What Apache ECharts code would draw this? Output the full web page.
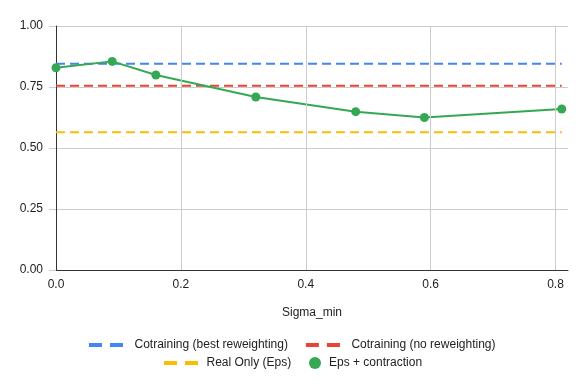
<!DOCTYPE html>
<html>
<head>
<meta charset="utf-8">
<script src="https://cdn.jsdelivr.net/npm/echarts@6/dist/echarts.min.js"></script>
<style>html,body{margin:0;padding:0;background:#fff}#c{width:588px;height:387px}</style>
</head>
<body>
<div id="c"></div>
<script>
const sigmaMin = [0, 0.09, 0.16, 0.32, 0.48, 0.59, 0.81];
const bestReweighting = [0.845, 0.845, 0.845, 0.845, 0.845, 0.845, 0.845];
const noReweighting = [0.755, 0.755, 0.755, 0.755, 0.755, 0.755, 0.755];
const realOnly = [0.565, 0.565, 0.565, 0.565, 0.565, 0.565, 0.565];
const epsContraction = [0.829, 0.855, 0.799, 0.709, 0.649, 0.625, 0.660];
const xTicks = [0, 0.2, 0.4, 0.6, 0.8];
const yTicks = [0, 0.25, 0.5, 0.75, 1.0];
const names = ['Cotraining (best reweighting)', 'Cotraining (no reweighting)', 'Real Only (Eps)', 'Eps + contraction'];
const colors = ['#4285f4', '#ea4335', '#fbbc04', '#34a853'];

const pair = (ys) => sigmaMin.map((x, i) => [x, ys[i]]);
const font = '"Liberation Sans", Arial, sans-serif';
const dashIcon = 'path://M0,0 H13 V4 H0 Z M21,0 H34 V4 H21 Z';
const legendText = (pl) => ({fontFamily: font, fontSize: 12, color: '#222', padding: [0, 0, 0, pl]});

const chart = echarts.init(document.getElementById('c'), null, {renderer: 'canvas'});
const dashed = (name, ys, color) => ({
  name, type: 'line', data: pair(ys), showSymbol: false, symbol: 'none',
  lineStyle: {color, width: 2, type: [9, 5]}, itemStyle: {color}, silent: true, z: 2
});
chart.setOption({
  animation: false,
  textStyle: {fontFamily: font},
  grid: {left: 56, right: 20, top: 26, bottom: 117, containLabel: false},
  legend: [
    {data: [names[0], names[1]].map((n) => ({name: n, icon: dashIcon})), left: 89, top: 339, padding: 0,
     itemWidth: 35, itemHeight: 4, itemGap: 18, textStyle: legendText(6)},
    {data: [{name: names[2], icon: dashIcon}], left: 164, top: 357, padding: 0,
     itemWidth: 35, itemHeight: 4, textStyle: legendText(3)},
    {data: [{name: names[3], icon: 'circle'}], left: 309, top: 357, padding: 0,
     itemWidth: 12, itemHeight: 12, textStyle: legendText(3)}
  ],
  xAxis: {
    type: 'value', min: 0, max: 0.82, interval: 0.2,
    name: 'Sigma_min', nameLocation: 'middle', nameGap: 37,
    nameTextStyle: {fontFamily: font, fontSize: 12, color: '#222'},
    axisLine: {show: true, lineStyle: {color: '#333', width: 1}},
    axisTick: {show: false},
    splitLine: {show: false},
    axisLabel: {fontFamily: font, fontSize: 12, color: '#222', margin: 9,
      formatter: v => xTicks.some(t => Math.abs(t - v) < 1e-9) ? v.toFixed(1) : ''}
  },
  yAxis: {
    type: 'value', min: 0, max: 1, interval: 0.25,
    axisLine: {show: true, lineStyle: {color: '#333', width: 1}},
    axisTick: {show: true, length: 7, lineStyle: {color: '#ccc'}},
    splitLine: {show: true, lineStyle: {color: '#ccc', width: 1}},
    axisLabel: {fontFamily: font, fontSize: 12, color: '#222', margin: 13,
      formatter: v => yTicks.some(t => Math.abs(t - v) < 1e-9) ? v.toFixed(2) : ''}
  },
  series: [
    {type: 'line', data: [], silent: true, z: 1,
     markLine: {silent: true, symbol: 'none', label: {show: false},
       lineStyle: {color: '#ccc', width: 1, type: 'solid'},
       data: xTicks.filter(t => t > 0).map(t => ({xAxis: t}))}},
    dashed(names[0], bestReweighting, colors[0]),
    dashed(names[1], noReweighting, colors[1]),
    dashed(names[2], realOnly, colors[2]),
    {name: names[3], type: 'line', data: pair(epsContraction), symbol: 'circle', symbolSize: 9,
     lineStyle: {color: colors[3], width: 2}, itemStyle: {color: colors[3]}, z: 3}
  ]
});
</script>
</body>
</html>
